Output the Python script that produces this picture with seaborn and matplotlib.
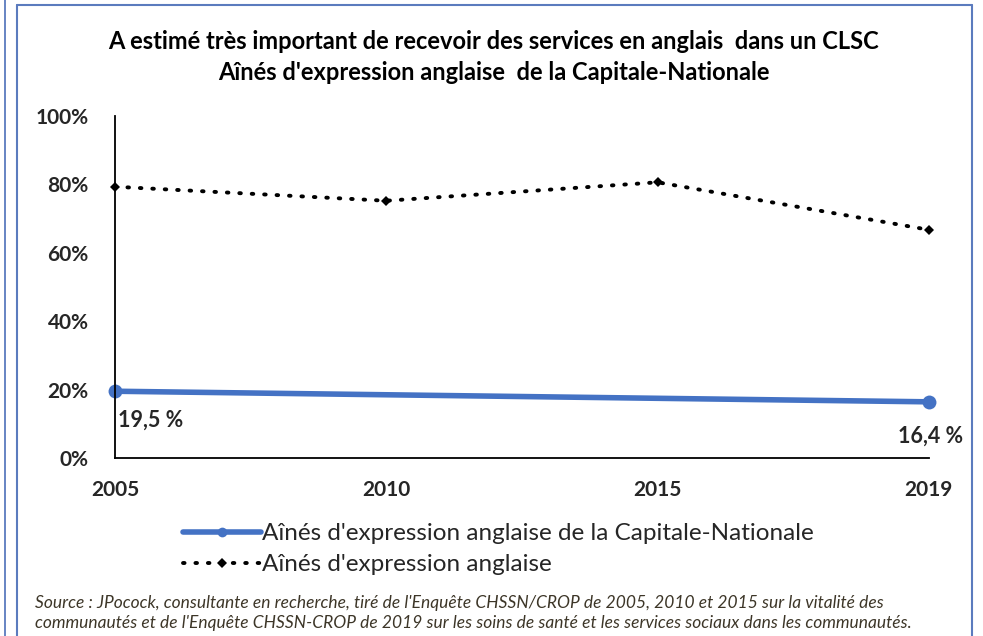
import numpy as np
import pandas as pd
import matplotlib
matplotlib.use("Agg")
import matplotlib.pyplot as plt
import seaborn as sns
from matplotlib.lines import Line2D

# Data
years = ["2005", "2010", "2015", "2019"]
capitale = [19.5, np.nan, np.nan, 16.4]
aines = [79.3, 75.2, 80.6, 66.7]
labels_capitale = ["19,5 %", "", "", "16,4 %"]

title = ("A estimé très important de recevoir des services en anglais  dans un CLSC\n"
         "Aînés d'expression anglaise  de la Capitale-Nationale")
source = ("Source : JPocock, consultante en recherche, tiré de l'Enquête CHSSN/CROP de 2005, 2010 et 2015 sur la vitalité des\n"
          "communautés et de l'Enquête CHSSN-CROP de 2019 sur les soins de santé et les services sociaux dans les communautés.")

sns.set_style("white")
plt.rcParams['font.family'] = ['Lato', 'DejaVu Sans']

pos = np.arange(len(years))
df_cap = pd.DataFrame({"x": pos, "y": np.array(capitale) / 100}).dropna()
df_ain = pd.DataFrame({"x": pos, "y": np.array(aines) / 100})

dots = (0, (0.4, 2.8))

fig = plt.figure(figsize=(9.83, 6.36), dpi=100)
ax = fig.add_axes([0.117, 0.280, 0.828, 0.5377])

sns.lineplot(data=df_ain, x="x", y="y", ax=ax, color="black", linewidth=2.8,
             linestyle=dots, dash_capstyle="round",
             marker="D", markersize=5.5, markeredgewidth=0, clip_on=False)
sns.lineplot(data=df_cap, x="x", y="y", ax=ax, color="#4472C4", linewidth=4,
             marker="o", markersize=10, markeredgewidth=0, clip_on=False)

# data labels
offsets = [-0.085, 0, 0, -0.10]
for i, lab in enumerate(labels_capitale):
    if not lab:
        continue
    ha = "left" if i == 0 else "center"
    dx = 0.01 if i == 0 else 0.005
    ax.text(pos[i] + dx, capitale[i] / 100 + offsets[i], lab, ha=ha, va="center",
            fontsize=15.5, fontweight="bold", color="#262626", clip_on=False)

ax.set_xlim(0, 3)
ax.set_ylim(0, 1)
ax.set_xticks(pos)
ax.set_xticklabels(years, fontsize=15, fontweight="bold", color="#262626")
ax.set_yticks(np.arange(0, 1.01, 0.2))
ax.set_yticklabels([f"{int(v*100)}%" for v in np.arange(0, 1.01, 0.2)],
                   fontsize=15, fontweight="bold", color="#262626")
ax.tick_params(axis="x", direction="out", length=6, width=1.2, color="black", pad=10)
ax.tick_params(axis="y", length=0, pad=19)
ax.set_xlabel("")
ax.set_ylabel("")
for s in ["top", "right"]:
    ax.spines[s].set_visible(False)
for s in ["left", "bottom"]:
    ax.spines[s].set_color("black")
    ax.spines[s].set_linewidth(1.3)
ax.spines["bottom"].set_zorder(0)

fig.text(0.502, 0.910, title, ha="center", va="center", fontsize=17,
         fontweight="bold", linespacing=1.4, color="black")

handles = [
    Line2D([], [], color="#4472C4", linewidth=4, marker="o", markersize=7, markeredgewidth=0),
    Line2D([], [], color="black", linewidth=2.8, linestyle=dots,
           dash_capstyle="round", marker="D", markersize=5.5, markeredgewidth=0),
]
fig.legend(handles, ["Aînés d'expression anglaise de la Capitale-Nationale",
                     "Aînés d'expression anglaise"],
           loc="upper left", bbox_to_anchor=(0.186, 0.177), frameon=False,
           fontsize=17.5, handlelength=3.2, handletextpad=0.05, labelspacing=0.4,
           borderpad=0, borderaxespad=0)

fig.text(0.036, 0.064, source, ha="left", va="top", fontsize=12.5,
         style="italic", color="#3d3628", linespacing=1.3)

# frame lines
frame_col = "#5B7BBE"
fig.add_artist(Line2D([17/983, 17/983], [0, 1 - 5/636], color=frame_col, lw=1.5))
fig.add_artist(Line2D([17/983, 972/983], [1 - 5/636, 1 - 5/636], color=frame_col, lw=1.5))
fig.add_artist(Line2D([972/983, 972/983], [0, 1 - 5/636], color=frame_col, lw=1.5))
fig.add_artist(Line2D([5/983, 5/983], [0, 1], color=frame_col, lw=1.3))

fig.savefig("out.png", dpi=100)
